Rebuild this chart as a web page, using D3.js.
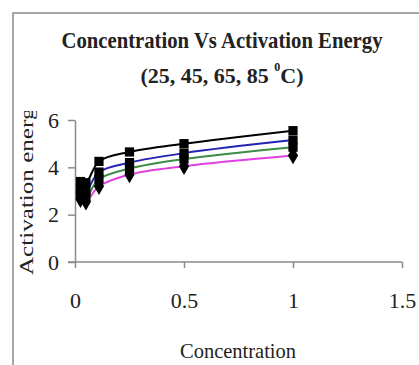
<!DOCTYPE html>
<html>
<head>
<meta charset="utf-8">
<script src="https://cdn.jsdelivr.net/npm/d3@7"></script>
<style>
  body { margin: 0; background: #fff; }
  text { font-family: "Liberation Serif", "DejaVu Serif", serif; fill: #222; }
</style>
</head>
<body>
<div id="chart"></div>
<script>
// podatki
var konc = [0.025, 0.05, 0.11, 0.25, 0.5, 1];
var e25 = [3.4, 3.35, 4.25, 4.65, 5.0, 5.55];
var e45 = [3.05, 3.0, 3.8, 4.2, 4.6, 5.15];
var e65 = [2.85, 2.75, 3.5, 3.95, 4.35, 4.85];
var e85 = [2.65, 2.55, 3.2, 3.7, 4.05, 4.5];
var xTicks = [0, 0.5, 1, 1.5];
var yTicks = [0, 2, 4, 6];

var serije = [
  { ime: "25", vals: e25, barva: "#000000", oblika: d3.symbolSquare },
  { ime: "45", vals: e45, barva: "#2323b4", oblika: d3.symbolSquare },
  { ime: "65", vals: e65, barva: "#3c8c46", oblika: d3.symbolSquare },
  { ime: "85", vals: e85, barva: "#e040e0", oblika: d3.symbolDiamond }
];

var width = 419, height = 365;
var svg = d3.select("#chart").append("svg")
  .attr("width", width)
  .attr("height", height);

// okvir
svg.append("rect")
  .attr("x", 13).attr("y", 13)
  .attr("width", 420).attr("height", 370)
  .attr("fill", "none")
  .attr("stroke", "#8a8a8a")
  .attr("stroke-width", 1.5);

// naslov
svg.append("text")
  .attr("x", 222).attr("y", 48)
  .attr("text-anchor", "middle")
  .attr("font-weight", "bold")
  .attr("font-size", 23)
  .attr("textLength", 321)
  .attr("lengthAdjust", "spacingAndGlyphs")
  .text("Concentration Vs Activation Energy");

var t2 = svg.append("text")
  .attr("x", 222).attr("y", 83)
  .attr("text-anchor", "middle")
  .attr("font-weight", "bold")
  .attr("font-size", 22);
t2.append("tspan").text("(25, 45, 65, 85 ");
t2.append("tspan").attr("font-size", 12).attr("dy", -12).text("0");
t2.append("tspan").attr("dy", 12).text("C)");

// skale
var x = d3.scaleLinear().domain([0, 1.5]).range([75, 402]);
var y = d3.scaleLinear().domain([0, 6]).range([262, 120]);

var osX = svg.append("g")
  .attr("transform", "translate(0," + y(0) + ")")
  .call(d3.axisBottom(x).tickValues(xTicks).tickSize(6).tickSizeOuter(0)
    .tickFormat(function(d) { return d; }));

var osY = svg.append("g")
  .attr("transform", "translate(" + x(0) + ",0)")
  .call(d3.axisLeft(y).tickValues(yTicks).tickSize(7).tickSizeOuter(0)
    .tickFormat(function(d) { return d; }));

[osX, osY].forEach(function(os) {
  os.select(".domain").attr("stroke", "#8a8a8a").attr("stroke-width", 1.5);
  os.selectAll(".tick line").attr("stroke", "#8a8a8a").attr("stroke-width", 1.5);
  os.selectAll(".tick text")
    .attr("font-family", "Liberation Serif, serif")
    .attr("font-size", 22)
    .attr("fill", "#222");
});
osX.selectAll(".tick text").attr("dy", 0).attr("y", 46);
osX.select(".domain").attr("d", "M" + (x(0) - 7) + ",0H" + x(1.5));
osY.selectAll(".tick text").attr("x", -16);

// naslovi osi
svg.append("text")
  .attr("x", 238).attr("y", 358)
  .attr("text-anchor", "middle")
  .attr("font-size", 22)
  .attr("textLength", 116)
  .attr("lengthAdjust", "spacingAndGlyphs")
  .text("Concentration");

svg.append("clipPath").attr("id", "yclip")
  .append("rect").attr("x", 0).attr("y", 111).attr("width", 60).attr("height", 200);

svg.append("g").attr("clip-path", "url(#yclip)")
  .append("text")
  .attr("transform", "translate(33,275) rotate(-90)")
  .attr("font-size", 19)
  .attr("textLength", 180)
  .attr("lengthAdjust", "spacingAndGlyphs")
  .text("Activation energy");

// crte
var crta = d3.line()
  .x(function(d, i) { return x(konc[i]); })
  .y(function(d) { return y(d); })
  .curve(d3.curveCatmullRom.alpha(0.5));

var g = svg.append("g");
serije.forEach(function(s) {
  g.append("path")
    .attr("d", crta(s.vals))
    .attr("fill", "none")
    .attr("stroke", s.barva)
    .attr("stroke-width", 2);
});

serije.forEach(function(s) {
  g.selectAll(null)
    .data(s.vals)
    .enter().append("path")
    .attr("d", d3.symbol().type(s.oblika).size(s.oblika === d3.symbolDiamond ? 90 : 85))
    .attr("transform", function(d, i) { return "translate(" + x(konc[i]) + "," + y(d) + ")"; })
    .attr("fill", "#000");
});
</script>
</body>
</html>
